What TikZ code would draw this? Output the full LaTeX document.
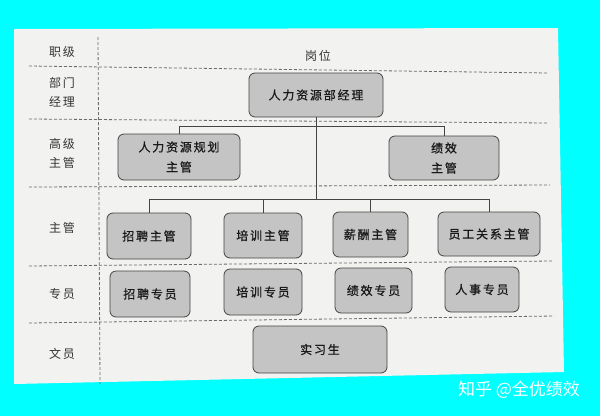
\documentclass[tikz,border=0pt]{standalone}
\usepackage{fontspec}
\newfontfamily\cjk[LetterSpace=15]{Noto Sans CJK SC}
\newfontfamily\cjkb[LetterSpace=15,FakeBold=0.8]{Noto Sans CJK SC}
\newfontfamily\cjkwm{Noto Sans CJK SC}
\definecolor{bgcyan}{HTML}{00FFFF}
\definecolor{paper}{HTML}{F2F2F0}
\definecolor{boxfill}{HTML}{C4C4C4}
\definecolor{boxline}{HTML}{444444}
\definecolor{dashc}{HTML}{6A6A6A}
\definecolor{labc}{HTML}{333333}
\begin{document}
\begin{tikzpicture}[x=1pt,y=-1pt,
  posbox/.style={draw=boxline,fill=boxfill,rounded corners=6pt,line width=0.8pt,
    inner sep=0pt,align=center,text=black!90,
    font=\cjkb\fontsize{12}{20}\selectfont},
  rowlab/.style={align=center,text=labc,inner sep=0pt,font=\cjk\fontsize{12}{19}\selectfont},
  divider/.style={draw=dashc,line width=0.8pt,dash pattern=on 3pt off 2pt},
  link/.style={draw=boxline,line width=0.8pt}]
\path[use as bounding box,fill=bgcyan] (0,0) rectangle (600,416);
\fill[paper] (14,29) -- (558,28) -- (564,372) -- (14,384) -- cycle;
% dividers
\draw[divider] (29,66) -- (548,73);
\draw[divider] (29,119) -- (548,123);
\draw[divider] (29,187) -- (550,185);
\draw[divider] (29,266) -- (552,261);
\draw[divider] (29,323) -- (554,316);
\draw[divider] (98,37) -- (100,384);
% row labels
\node[rowlab] (l1) at (62,52) {职级};
\node[rowlab] (l2) at (62,92.5) {部门\\经理};
\node[rowlab] (l3) at (62,153.5) {高级\\主管};
\node[rowlab] (l4) at (62,228) {主管};
\node[rowlab] (l5) at (62,294) {专员};
\node[rowlab] (l6) at (62,354) {文员};
\node[rowlab] (hdr) at (318,56) {岗位};
% boxes
\node[posbox,minimum width=134pt,minimum height=44pt] (mgr) at (316,95) {人力资源部经理};
\node[posbox,minimum width=122pt,minimum height=46pt] (plan) at (179,157) {人力资源规划\\主管};
\node[posbox,minimum width=110pt,minimum height=44pt] (perf) at (444,158) {绩效\\主管};
\node[posbox,minimum width=84pt,minimum height=46pt] (rec) at (149,236) {招聘主管};
\node[posbox,minimum width=78pt,minimum height=45pt] (tra) at (263,235.5) {培训主管};
\node[posbox,minimum width=75pt,minimum height=45pt] (sal) at (370.5,234.5) {薪酬主管};
\node[posbox,minimum width=102pt,minimum height=44pt] (rel) at (489,234) {员工关系主管};
\node[posbox,minimum width=80pt,minimum height=46pt] (rec2) at (150,294) {招聘专员};
\node[posbox,minimum width=78pt,minimum height=46pt] (tra2) at (263,292) {培训专员};
\node[posbox,minimum width=77pt,minimum height=45pt] (perf2) at (373.5,290.5) {绩效专员};
\node[posbox,minimum width=74pt,minimum height=45pt] (hr2) at (482,289.5) {人事专员};
\node[posbox,minimum width=134pt,minimum height=47pt] (intern) at (320,349.5) {实习生};
% connectors
\coordinate (bar1) at (0,126);
\coordinate (bar2) at (0,199);
\draw[link] (mgr.south) -- (mgr.south |- bar2);
\draw[link] (plan.north) -- (plan.north |- bar1) -- (perf.north |- bar1) -- (perf.north);
\draw[link] (rec.north) -- (rec.north |- bar2) -- (rel.north |- bar2) -- (rel.north);
\draw[link] (tra.north) -- (tra.north |- bar2);
\draw[link] (sal.north) -- (sal.north |- bar2);
% watermark
\node[text=white,inner sep=0pt,font=\cjkwm\fontsize{17}{20}\selectfont] (wm) at (519,390) {知乎 @全优绩效};
\end{tikzpicture}
\end{document}
